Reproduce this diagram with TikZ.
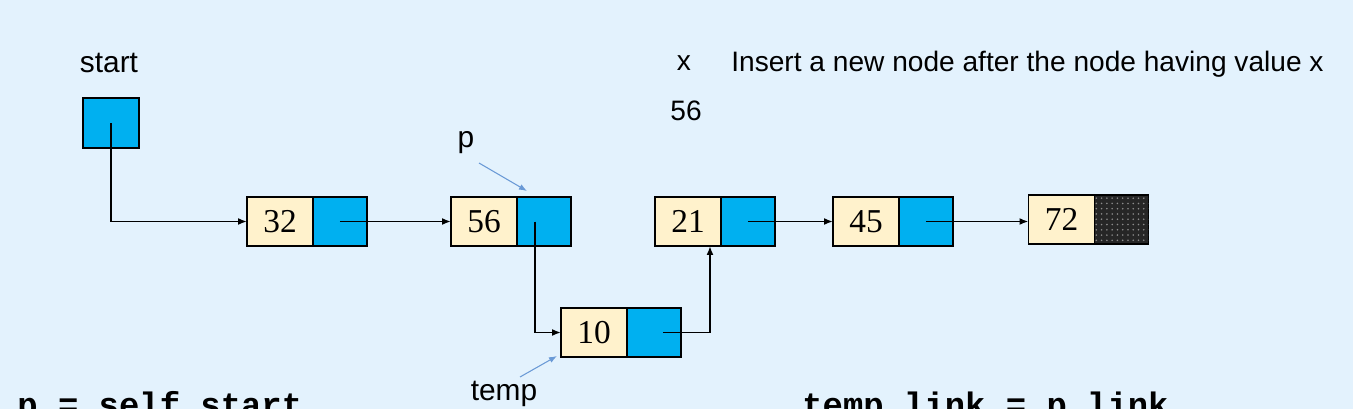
\documentclass[tikz,border=0pt]{standalone}
\usepackage{fontspec}
\setmainfont{Liberation Serif}
\setsansfont{Liberation Sans}
\setmonofont{Liberation Mono}
\usepackage{tikz}
\usetikzlibrary{arrows.meta, positioning, patterns}
\definecolor{slidebg}{HTML}{E3F2FD}
\definecolor{datacream}{HTML}{FFF2CC}
\definecolor{linkblue}{HTML}{00B0F0}
\definecolor{hintblue}{HTML}{6A9AD6}

\tikzset{
  databox/.style={draw, line width=1.1pt, fill=datacream, minimum width=1.32cm,
    minimum height=0.98cm, inner sep=0pt, outer sep=0pt,
    font=\rmfamily\fontsize{19}{22}\selectfont},
  linkbox/.style={draw, line width=1.1pt, fill=linkblue, minimum width=1.08cm,
    minimum height=0.98cm, inner sep=0pt, outer sep=0pt},
  nullbox/.style={linkbox, fill=black!85,
    postaction={pattern=dots, pattern color=black!45}},
  ptr/.style={line width=1pt, -{Latex[length=1.8mm, width=1.4mm]}},
  hint/.style={hintblue, line width=0.6pt, -{Latex[length=1.6mm, width=1.2mm]}},
  tag/.style={inner sep=0pt, font=\sffamily\fontsize{17}{20}\selectfont},
  note/.style={inner sep=0pt, font=\sffamily\fontsize{16}{19}\selectfont},
  code/.style={inner sep=0pt, font=\ttfamily\bfseries\fontsize{19.3}{23}\selectfont}
}

\begin{document}
\begin{tikzpicture}[x=0.02cm, y=-0.02cm]
  %% Slide background
  \fill[slidebg] (0,0) rectangle (1353,409);
  \useasboundingbox (0,0) rectangle (1353,409);
  \clip (0,0) rectangle (1353,409);

  %% Head pointer
  \node[tag] (tstart) at (109,63) {start};
  \node[linkbox, minimum width=1.12cm, minimum height=1.0cm] (st) at (111,123) {};

  %% The list: data part, then link part
  \node[databox] (d32) at (280,221.5) {32};
  \node[linkbox, right=0pt of d32] (p32) {};
  \node[databox] (d56) at (484,221.5) {56};
  \node[linkbox, right=0pt of d56] (p56) {};
  \node[databox] (d21) at (688,221.5) {21};
  \node[linkbox, right=0pt of d21] (p21) {};
  \node[databox] (d45) at (866,221.5) {45};
  \node[linkbox, right=0pt of d45] (p45) {};
  \node[databox] (d72) at (1061.5,219.5) {72};
  \node[nullbox, right=0pt of d72] (p72) {};

  %% New node
  \node[databox] (d10) at (594,332.5) {10};
  \node[linkbox, right=0pt of d10] (p10) {};

  %% Links
  \draw[ptr] (st.center) |- (d32.west);
  \draw[ptr] (p32.center) -- (d56.west);
  \draw[ptr] ([xshift=-0.18cm]p56.center) |- (d10.west);
  \draw[ptr] ([xshift=0.18cm]p10.center) -| ([xshift=-0.22cm]d21.south east);
  \draw[ptr] (p21.center) -- (p21.center -| d45.west);
  \draw[ptr] (p45.center) -- (p45.center -| d72.west);

  %% Pointer names
  \node[tag] (tp) at (466,143) {p};
  \draw[hint] ([shift={(13,20)}]tp.center) -- ([shift={(10,-6)}]p56.north west);
  \node[tag] (ttemp) at (504,394) {temp};
  \draw[hint] ([shift={(16,-17)}]ttemp.center) -- ([shift={(-4,-1)}]d10.south west);

  %% Task
  \node[note] (tx) at (684,63) {x};
  \node[note] (tval) at (686,111) {56};
  \node[note, anchor=west] (ttask) at (731,64) {Insert a new node after the node having value x};

  %% Code lines (cut by the slide edge)
  \node[code, anchor=base west] (c1) at (17,416) {p = self.start};
  \node[code, anchor=base west] (c2) at (802,416) {temp.link = p.link};
\end{tikzpicture}
\end{document}
